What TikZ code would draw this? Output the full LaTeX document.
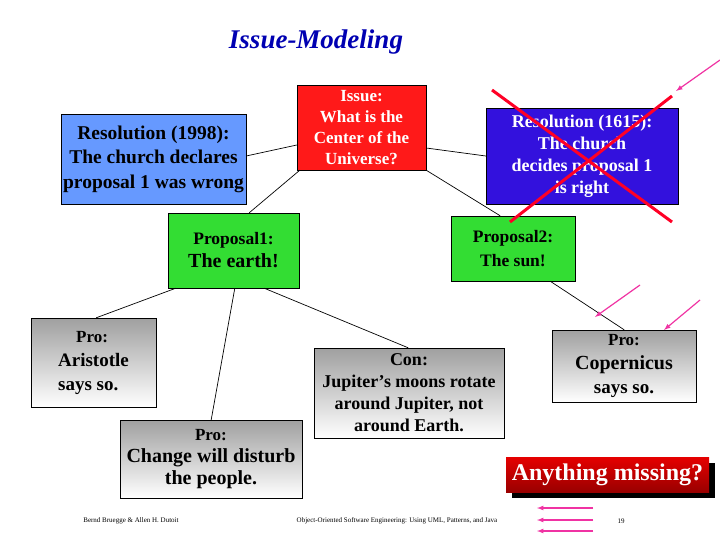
\documentclass[tikz,border=0pt]{standalone}
\usepackage{fontspec}
\setmainfont{Liberation Serif}
\begin{document}
\begin{tikzpicture}[x=1pt,y=-1pt,
  box/.style={draw=black,inner sep=0pt,align=center,font=\bfseries\fontsize{17}{21}\selectfont},
  gbox/.style={box,top color=gray!75,bottom color=white,font=\bfseries\fontsize{17}{22}\selectfont},
  ln/.style={draw=black,line width=0.7pt},
  mag/.style={draw=magenta!80!white,line width=1.2pt,-latex}]
\useasboundingbox (0,0) rectangle (720,540);
\fill[white] (0,0) rectangle (720,540);
\node[font=\bfseries\itshape\fontsize{27}{30}\selectfont,text=blue!70!black] (title) at (316,42) {Issue-Modeling};
\node[box,fill=red!90!white,text=white,minimum width=129pt,minimum height=85pt] (iss) at (361.5,127.5) {Issue:\\What is the\\Center of the\\Universe?};
\node[box,fill={rgb,255:red,102;green,153;blue,255},minimum width=185pt,minimum height=90pt,font=\bfseries\fontsize{19.5}{24.5}\selectfont] (r98) at (153.5,159) {Resolution (1998):\\The church declares\\proposal 1 was wrong};
\node[box,fill={rgb,255:red,51;green,17;blue,221},text=white,minimum width=192pt,minimum height=96pt,font=\bfseries\fontsize{18}{22}\selectfont] (r15) at (582,156) {Resolution (1615):\\The church\\decides proposal 1\\is right};
\node[box,fill={rgb,255:red,51;green,221;blue,51},minimum width=131pt,minimum height=75pt,font=\bfseries\fontsize{17.5}{23}\selectfont] (p1) at (233.5,250.5) {Proposal1:\\{\fontsize{20}{24}\selectfont The earth!}};
\node[box,fill={rgb,255:red,51;green,221;blue,51},minimum width=124pt,minimum height=65pt,font=\bfseries\fontsize{17.5}{24}\selectfont] (p2) at (513,248.5) {Proposal2:\\The sun!};
\node[gbox,minimum width=125pt,minimum height=89pt,align=left,font=\bfseries\fontsize{19}{24}\selectfont] (ar) at (93.5,362.5) {\hspace*{18pt}{\fontsize{17}{22}\selectfont Pro:}\\Aristotle\\says so.};
\node[gbox,minimum width=182pt,minimum height=78pt] (ch) at (211,459) {Pro:\\{\fontsize{20}{24}\selectfont Change will disturb}\\{\fontsize{20}{24}\selectfont the people.}};
\node[gbox,minimum width=190pt,minimum height=90pt,font=\bfseries\fontsize{18}{22}\selectfont] (con) at (409,393) {Con:\\Jupiter’s moons rotate\\around Jupiter, not\\around Earth.};
\node[gbox,minimum width=144pt,minimum height=72pt,font=\bfseries\fontsize{19}{24}\selectfont] (cop) at (624,366) {{\fontsize{17}{22}\selectfont Pro:}\\{\fontsize{20}{24}\selectfont Copernicus}\\says so.};
\fill[black] (512,463) rectangle (715,498);
\node[box,draw=none,top color=red!90!black,bottom color=red!60!black,text=white,minimum width=203pt,minimum height=35pt,font=\bfseries\fontsize{24}{27}\selectfont] (any) at (607.5,474.5) {Anything missing?};
\draw[ln] (iss.west|-0,145) -- (r98.east|-0,156);
\draw[ln] (iss.east|-0,148) -- (r15.west|-0,156);
\draw[ln] ([xshift=3pt]iss.south west) -- ([xshift=-50pt]p1.north east);
\draw[ln] (iss.south east) -- ([xshift=-75pt]p2.north east);
\draw[ln] ([xshift=8pt]p1.south west) -- ([xshift=-60pt]ar.north east);
\draw[ln] ([xshift=67pt]p1.south west) -- ([xshift=-91pt]ch.north east);
\draw[ln] ([xshift=-35pt]p1.south east) -- ([xshift=-96pt]con.north east);
\draw[ln] ([xshift=-25pt]p2.south east) -- ([xshift=-72pt]cop.north east);
\draw[red!85!magenta,line width=3pt] (492,90) -- (672,222);
\draw[red!85!magenta,line width=3pt] (672,96) -- (510,222);
\coordinate (m1) at (720,60); \coordinate (m1e) at (676,91);
\draw[mag] (m1) -- (m1e);
\coordinate (m2) at (640,285); \coordinate (m2e) at (595,317);
\draw[mag] (m2) -- (m2e);
\coordinate (m3) at (700,300); \coordinate (m3e) at (664,330);
\draw[mag] (m3) -- (m3e);
\foreach \yy/\n in {508/a,520/b,531/c}{
  \coordinate (s\n) at (593,\yy); \coordinate (e\n) at (537,\yy);
  \draw[mag] (s\n) -- (e\n);}
\node[font=\fontsize{7}{8}\selectfont] (f1) at (131,521) {Bernd Bruegge \& Allen H. Dutoit};
\node[font=\fontsize{7}{8}\selectfont] (f2) at (397,521) {Object-Oriented Software Engineering: Using UML, Patterns, and Java};
\node[font=\fontsize{7}{8}\selectfont] (f3) at (621,521) {19};
\end{tikzpicture}
\end{document}
